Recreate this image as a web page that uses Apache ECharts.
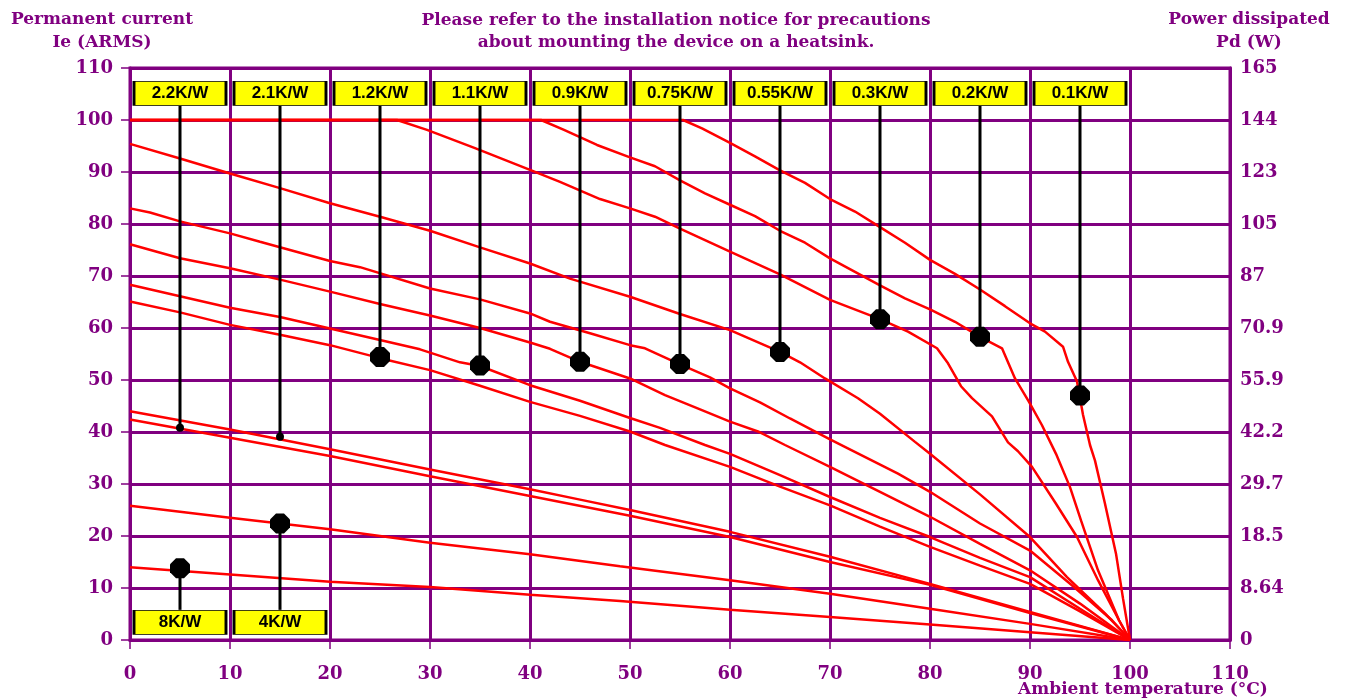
<!DOCTYPE html>
<html><head><meta charset="utf-8">
<script src="https://cdn.jsdelivr.net/npm/echarts@6/dist/echarts.min.js"></script>
<style>html,body{margin:0;padding:0;background:#fff}#c{width:1350px;height:698px}</style>
</head><body><div id="c"></div>
<script>
// ---- Data (Ambient temperature °C, Permanent current A RMS) ----
const curve_0_1 = [[0,100],[55.3,100],[57.2,98.4],[60,95.6],[62.5,93],[65,90.3],[67.5,87.9],[70,84.8],[72.5,82.4],[75,79.4],[77.5,76.4],[80,73.1],[82.5,70.4],[85,67.4],[87.5,64.2],[90,60.9],[91.5,59.3],[93.3,56.4],[93.8,53.5],[94.7,49.7],[95.3,43.3],[96,37.5],[96.5,34.5],[97.5,26.2],[98.6,16.6],[99.3,8],[100,0]];
const curve_0_2 = [[0,100],[41.1,100],[43.4,98.1],[46.7,95.2],[50,92.8],[52.5,91.1],[55,88.4],[57.5,85.9],[60,83.7],[62.5,81.5],[65,78.7],[67.5,76.4],[70,73.4],[72.5,70.8],[75,68.2],[77.5,65.7],[80,63.6],[82.5,61.2],[85,58.3],[87.2,56.1],[88.5,50.3],[89.9,45.8],[91.2,41.3],[92.6,35.8],[94,29.4],[95.1,23],[96.8,13.4],[98.9,3.8],[100,0]];
const curve_0_3 = [[0,100],[26.7,100],[29.7,98.1],[34.5,94.6],[40,90.4],[43,88.1],[47,84.8],[50,83],[52.5,81.4],[55,79.1],[60,74.7],[65,70.3],[70,65.4],[75,61.7],[77.8,59.3],[80.7,56.1],[81.8,53.2],[83.1,48.8],[84.2,46.5],[86.2,43],[87.8,38],[88.8,36.3],[90.2,33.3],[92.6,26.2],[94.7,19.8],[96.8,11.5],[98.9,3.8],[100,0]];
const curve_0_55 = [[0,95.4],[5,92.6],[10,89.7],[15,86.9],[20,84],[25,81.4],[30,78.7],[35,75.5],[40,72.4],[44,69.5],[50,66],[55,62.7],[60,59.6],[65,55.4],[67,53.4],[69.5,50.3],[72.8,46.5],[75,43.5],[78.5,38.1],[80,35.8],[85,28],[90,19.8],[93.7,12.1],[97.5,5.1],[100,0]];
const curve_0_75 = [[0,83],[2,82.2],[5,80.5],[10,78.2],[13,76.6],[20,72.9],[23,71.7],[30,67.6],[35,65.5],[40,62.8],[42,61.2],[46,59],[50,56.7],[51.5,56.1],[55,53],[58,50.5],[60,48.4],[63,45.7],[66,42.6],[70,38.6],[76.8,32],[80,28.5],[85,22.4],[90,17.2],[94.4,10.2],[98.2,3.8],[100,0]];
const curve_0_9 = [[0,76.1],[5,73.4],[10,71.5],[15,69.3],[20,67],[25,64.6],[30,62.4],[35,60],[40,57.2],[42,56],[45,53.5],[50,50.3],[53.5,47.1],[56.7,44.6],[60,42],[62.8,40.1],[65.5,37.5],[70,33.3],[75,28.5],[80,23.7],[85,18.5],[90,13.4],[95,7],[100,0]];
const curve_1_1 = [[0,68.3],[5,66.1],[10,63.9],[15,62.1],[20,59.9],[25,57.7],[29,55.9],[33,53.4],[35,52.7],[40,49],[45,46],[50,42.7],[53,40.8],[57.5,37.5],[60,35.8],[65,31.7],[70,27.5],[75,23.5],[80,19.8],[85,15.8],[90,12.1],[95,6],[100,0]];
const curve_1_2 = [[0,65.1],[5,63],[10,60.6],[15,58.7],[20,56.7],[25,54.2],[30,51.9],[35,48.9],[40,45.8],[45,43.1],[50,40.1],[53.5,37.5],[60,33.3],[65,29.5],[70,25.9],[75,21.8],[80,17.9],[85,14.3],[90,10.8],[95,5.5],[100,0]];
const curve_2_1 = [[0,44],[10,40.5],[20,36.7],[30,32.8],[40,29],[45,27],[50,25],[60,20.8],[70,16],[80,10.8],[90,5.4],[100,0]];
const curve_2_2 = [[0,42.4],[10,38.9],[20,35.4],[30,31.5],[40,27.7],[50,23.9],[60,19.8],[70,15],[80,10.6],[90,5.2],[100,0]];
const curve_4 = [[0,25.8],[10,23.5],[20,21.3],[30,18.7],[40,16.5],[49,14.2],[60,11.5],[70,8.9],[80,6],[90,3.1],[100,0]];
const curve_8 = [[0,14],[10,12.6],[20,11.2],[30,10.2],[40,8.7],[49,7.5],[60,5.8],[70,4.4],[80,3],[90,1.5],[100,0]];

// Label boxes (top row) and their marker points on curves
const topLabels = ['2.2K/W','2.1K/W','1.2K/W','1.1K/W','0.9K/W','0.75K/W','0.55K/W','0.3K/W','0.2K/W','0.1K/W'];
const topLabelX = [5,15,25,35,45,55,65,75,85,95];
const topMarkerY = [40.8,39.1,54.4,52.8,53.5,53.1,55.4,61.7,58.3,47];
const bottomLabels = ['8K/W','4K/W'];
const bottomLabelX = [5,15];
const bottomMarkerY = [13.8,22.4];

// Right axis tick labels: Power dissipated Pd (W)
const pdTicks = ['0','8.64','18.5','29.7','42.2','55.9','70.9','87','105','123','144','165'];
const xTicks = [0,10,20,30,40,50,60,70,80,90,100,110];

// ---- Styles ----
const PURPLE = '#800080';
const SERIF = '"DejaVu Serif", "Liberation Serif", serif';
const BOX_TOP_Y = 105.1, BOX_BOTTOM_Y = 3.4;
const STEM_TOP = 102.7, STEM_BOTTOM = 5.8;

const chart = echarts.init(document.getElementById('c'), null, {renderer:'canvas'});

const curves = [curve_0_1, curve_0_2, curve_0_3, curve_0_55, curve_0_75, curve_0_9, curve_1_1, curve_1_2, curve_2_1, curve_2_2, curve_4, curve_8];
const series = [];
curves.forEach(function(c){
  series.push({type:'line', data:c, symbol:'none', smooth:false, z:3,
    lineStyle:{color:'#ff0000', width:2.5}, silent:true});
});

// stems
const stemData = [];
topLabelX.forEach(function(x,i){ stemData.push([x, STEM_TOP, topMarkerY[i]]); });
bottomLabelX.forEach(function(x,i){ stemData.push([x, bottomMarkerY[i], STEM_BOTTOM]); });
series.push({type:'custom', z:4, silent:true, data:stemData,
  renderItem:function(params, api){
    const p1 = api.coord([api.value(0), api.value(1)]);
    const p2 = api.coord([api.value(0), api.value(2)]);
    return {type:'line', shape:{x1:p1[0],y1:p1[1],x2:p2[0],y2:p2[1]}, style:{stroke:'#000', lineWidth:3}};
  }});

// markers
const OCT = 'path://M30,0 L70,0 L100,30 L100,70 L70,100 L30,100 L0,70 L0,30 Z';
const bigMarkers = [];
topLabelX.forEach(function(x,i){ if(i>=2) bigMarkers.push([x, topMarkerY[i]]); });
bottomLabelX.forEach(function(x,i){ bigMarkers.push([x, bottomMarkerY[i]]); });
series.push({type:'scatter', data:bigMarkers, symbol:OCT, symbolSize:20, z:5, silent:true,
  itemStyle:{color:'#000', opacity:1}});
series.push({type:'scatter', data:[[topLabelX[0],topMarkerY[0]],[topLabelX[1],topMarkerY[1]]], symbol:'circle', symbolSize:8, z:5, silent:true,
  itemStyle:{color:'#000', opacity:1}});

// label boxes
const boxData = [];
topLabelX.forEach(function(x,i){ boxData.push({value:[x, BOX_TOP_Y], name:topLabels[i]}); });
bottomLabelX.forEach(function(x,i){ boxData.push({value:[x, BOX_BOTTOM_Y], name:bottomLabels[i]}); });
series.push({type:'scatter', data:boxData, symbol:'rect', symbolSize:[92,24], z:6, silent:true,
  itemStyle:{color:'#ffff00', borderColor:'#000', borderWidth:1.5, opacity:1},
  label:{show:true, position:'inside', formatter:'{b}', color:'#000',
    fontFamily:'"Liberation Sans", Arial, sans-serif', fontWeight:'bold', fontSize:17}});

const axisLabelStyle = {color:PURPLE, fontFamily:SERIF, fontWeight:'bold', fontSize:18};

const option = {
  animation:false,
  backgroundColor:'#fff',
  grid:{left:130, right:120, top:68, bottom:58, show:true, borderColor:PURPLE, borderWidth:3, backgroundColor:'transparent'},
  xAxis:{type:'value', min:0, max:110, interval:10,
    axisLine:{show:true, lineStyle:{color:PURPLE, width:3}},
    axisTick:{show:true, length:9, lineStyle:{color:PURPLE, width:1.5}},
    splitLine:{show:true, lineStyle:{color:PURPLE, width:3}},
    axisLabel:Object.assign({margin:25, formatter:function(v){ return String(xTicks[Math.round(v/10)]); }}, axisLabelStyle)},
  yAxis:[
    {type:'value', min:0, max:110, interval:10, position:'left',
      axisLine:{show:true, lineStyle:{color:PURPLE, width:3}},
      axisTick:{show:true, length:9, lineStyle:{color:PURPLE, width:1.5}},
      splitLine:{show:true, lineStyle:{color:PURPLE, width:3}},
      axisLabel:Object.assign({margin:17}, axisLabelStyle)},
    {type:'value', min:0, max:110, interval:10, position:'right',
      axisLine:{show:true, lineStyle:{color:PURPLE, width:3}},
      axisTick:{show:false},
      splitLine:{show:false},
      axisLabel:Object.assign({margin:10, formatter:function(v){ return pdTicks[Math.round(v/10)]; }}, axisLabelStyle)}
  ],
  graphic:[
    {type:'text', x:102, y:8, style:{text:'Permanent current\nIe (ARMS)', textAlign:'center', fill:PURPLE, font:'bold 17px '+SERIF, lineHeight:23}},
    {type:'text', x:676, y:10, style:{text:'Please refer to the installation notice for precautions\nabout mounting the device on a heatsink.', textAlign:'center', fill:PURPLE, font:'bold 17px '+SERIF, lineHeight:22}},
    {type:'text', x:1249, y:8, style:{text:'Power dissipated\nPd (W)', textAlign:'center', fill:PURPLE, font:'bold 17px '+SERIF, lineHeight:23}},
    {type:'text', x:1143, y:681, style:{text:'Ambient temperature (°C)', textAlign:'center', fill:PURPLE, font:'bold 17px '+SERIF}}
  ],
  series:series
};
chart.setOption(option);
</script></body></html>
